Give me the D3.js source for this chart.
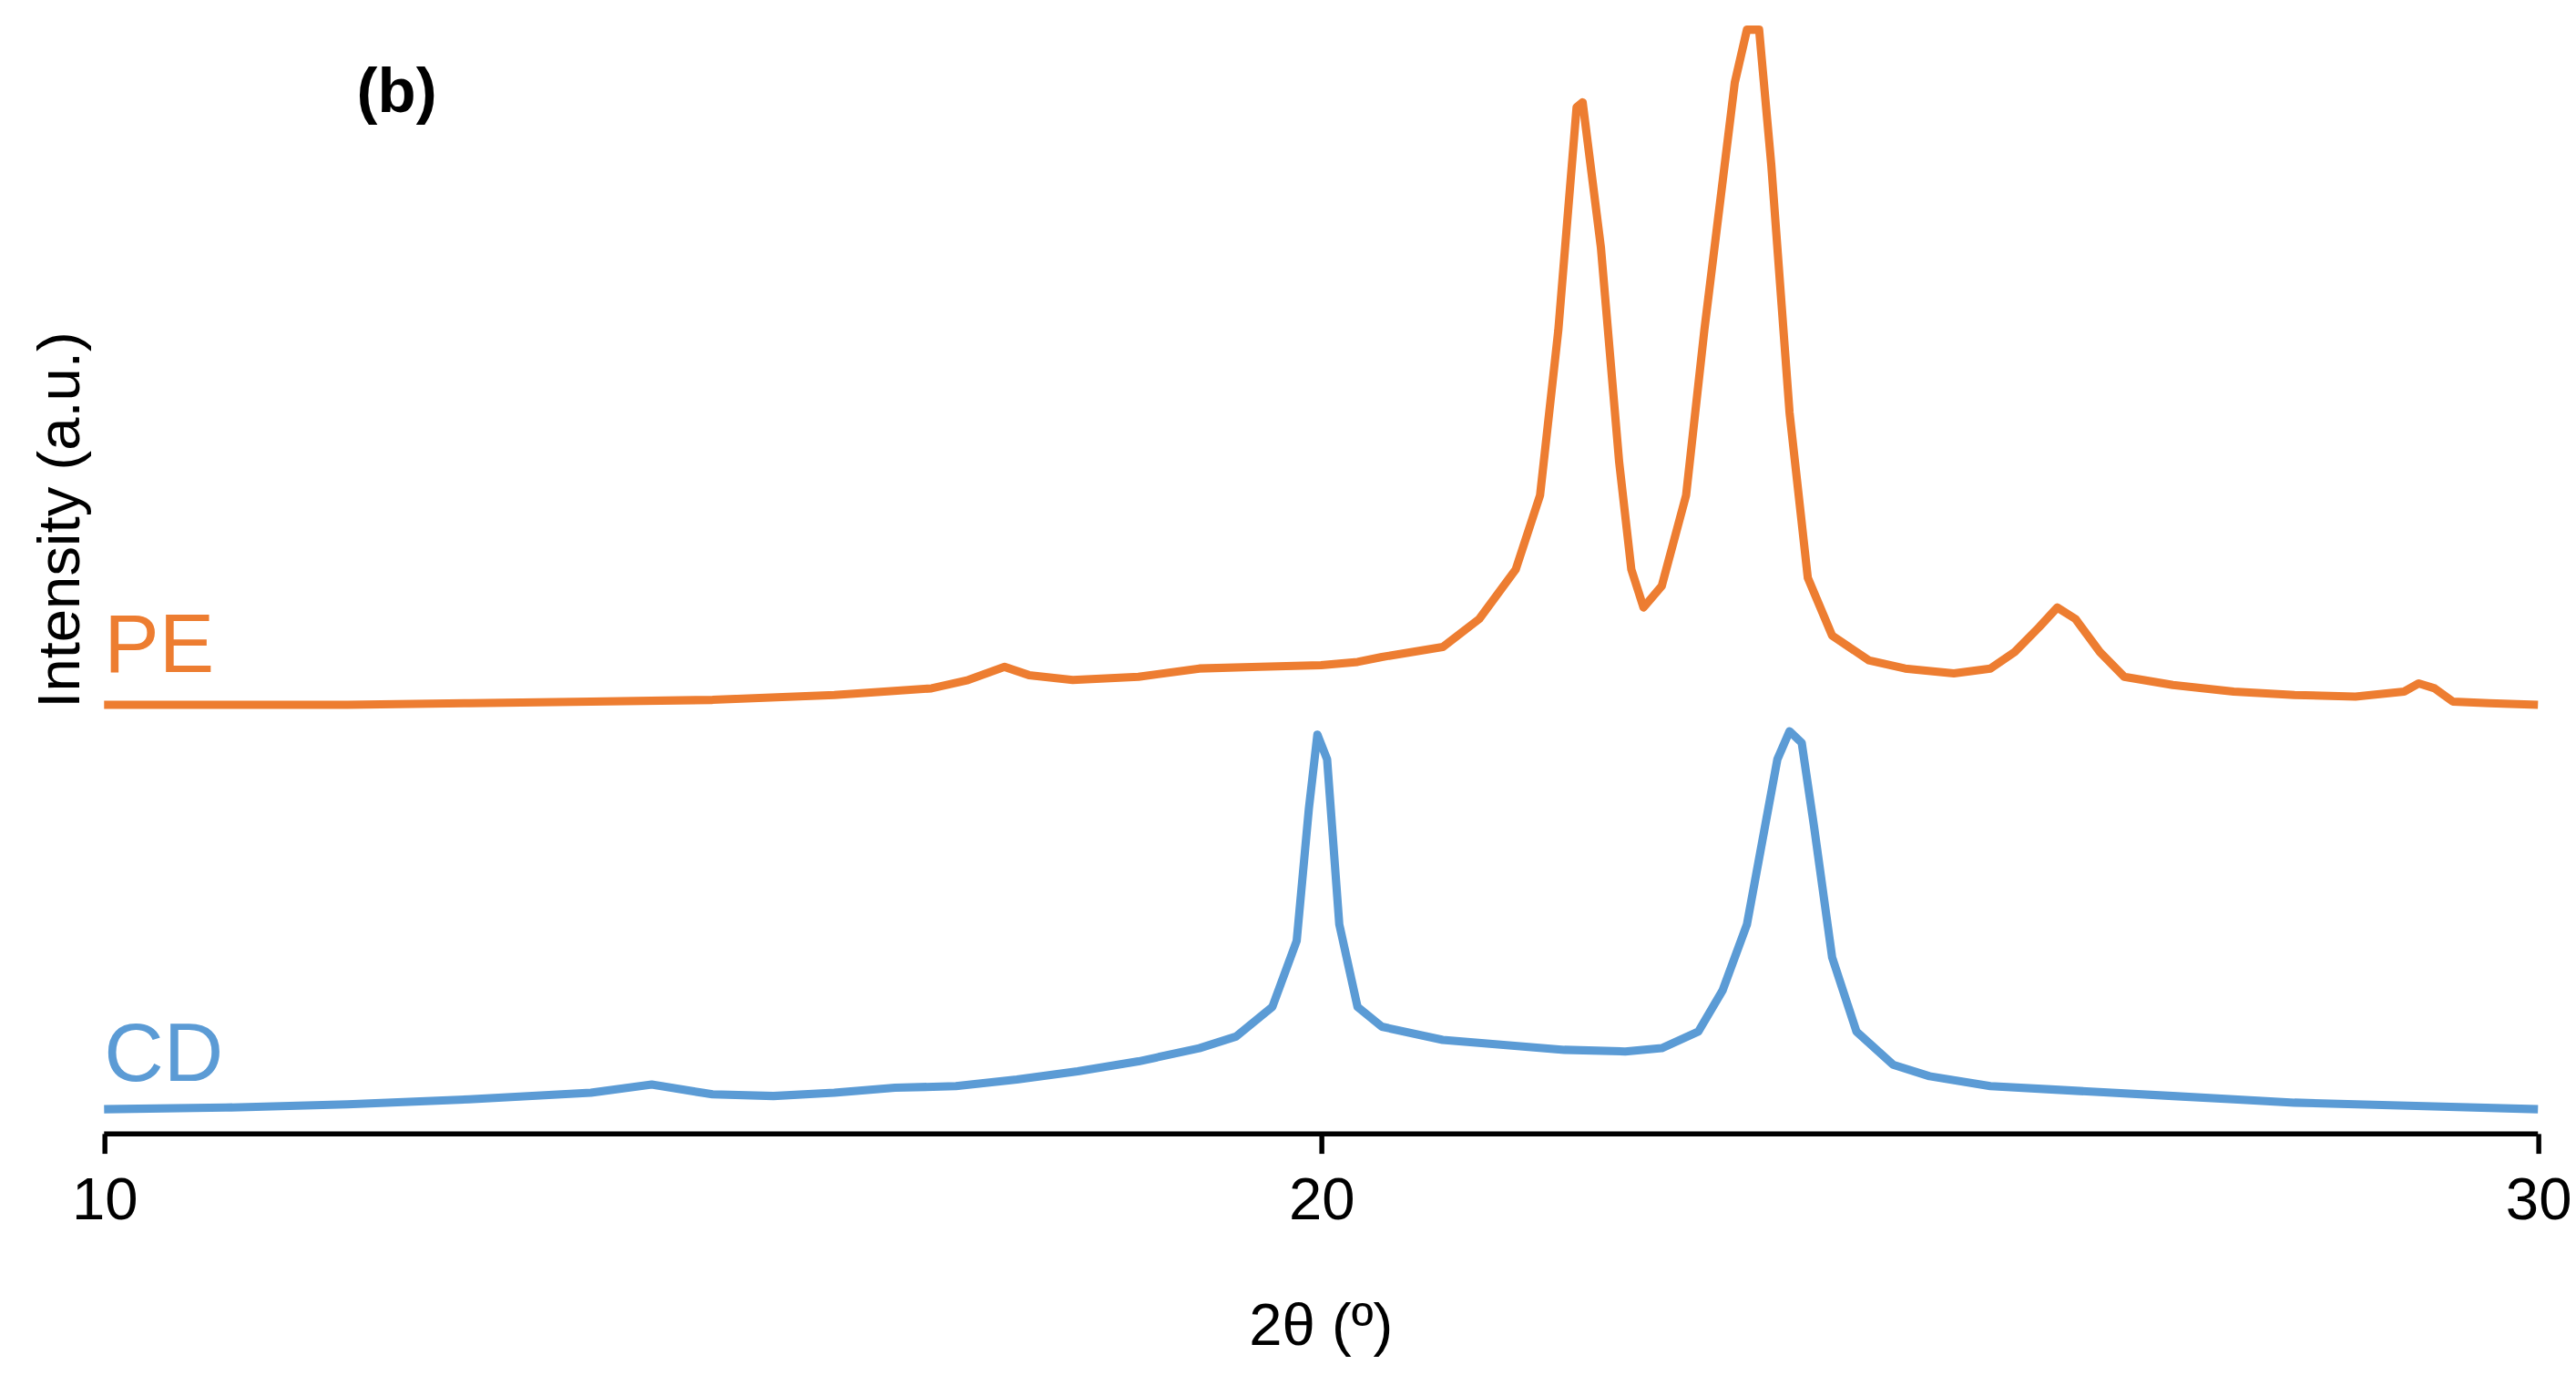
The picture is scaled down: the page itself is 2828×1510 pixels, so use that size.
<!DOCTYPE html>
<html><head><meta charset="utf-8">
<script src="https://cdn.jsdelivr.net/npm/d3@7"></script>
<style>body{margin:0;background:#fff}svg{display:block}</style>
</head><body><svg></svg>
<script>
// Traces: 2θ and intensity (a.u., height above the axis)
var pe_theta = [10,11,12,13,14,15,16,16.8,17.1,17.4,17.6,17.96,18.5,19,19.5,20,20.3,20.5,21,21.3,21.6,21.8,21.95,22.1,22.15,22.3,22.45,22.55,22.65,22.8,23.0,23.15,23.3,23.4,23.5,23.6,23.7,23.85,24.0,24.2,24.5,24.8,25.2,25.5,25.7,25.9,26.05,26.2,26.4,26.6,27,27.5,28,28.5,28.9,29.02,29.15,29.3,29.6,30];
var pe_int   = [260,260,260,261,262,263,266,270,275,283,278,275,277,282,283,284,286,289,295,312,342,387,487,622,625,537,407,342,319,332,387,487,577,637,669,669,587,437,337,302,287,282,279,282,292,307,319,312,292,277,272,268,266,265,268,273,270,262,261,260];
var cd_theta = [10,11,12,13,14,14.5,15,15.5,16,16.5,17,17.5,18,18.5,19,19.3,19.6,19.8,19.9,19.97,20.05,20.15,20.3,20.5,21,21.5,22,22.5,22.8,23.1,23.3,23.5,23.65,23.75,23.85,23.95,24.05,24.2,24.4,24.7,25,25.5,26,26.5,27,27.5,28,29,30];
var cd_int   = [15,16,18,21,25,30,24,23,25,28,29,33,38,44,52,59,77,117,197,242,227,127,77,65,57,54,51,50,52,62,87,127,187,227,244,237,187,107,62,42,35,29,27,25,23,21,19,17,15];
var x_ticks = [10,20,30];
var series = [
  {name:"PE", theta:pe_theta, val:pe_int, color:"#ED7D31", lx:63, ly:390},
  {name:"CD", theta:cd_theta, val:cd_int, color:"#5B9BD5", lx:63, ly:638}
];

var W = 1560, H = 833;
var svg = d3.select("svg").attr("width",2828).attr("height",1510).attr("viewBox","0 0 "+W+" "+H);
var x = d3.scaleLinear().domain([10,30]).range([63,1537]);
var y = d3.scaleLinear().domain([0,687]).range([687,0]);

var ax = svg.append("g").attr("transform","translate(0,687)")
  .call(d3.axisBottom(x).tickValues(x_ticks).tickSize(12).tickPadding(14).tickFormat(d3.format("d")));
ax.select(".domain").attr("stroke","#000").attr("stroke-width",3).attr("d","M63,0H1537");
ax.selectAll(".tick line").attr("stroke","#000").attr("stroke-width",3);
ax.selectAll("text").attr("font-family","Arial, Liberation Sans, sans-serif").attr("font-size",36).attr("fill","#000");

var line = d3.line().x(function(d){return x(d[0]);}).y(function(d){return y(d[1]);});
series.forEach(function(s){
  svg.append("path").datum(d3.zip(s.theta,s.val)).attr("d",line)
    .attr("fill","none").attr("stroke",s.color).attr("stroke-width",5).attr("stroke-linejoin","round");
  svg.append("text").attr("x",s.lx).attr("y",s.ly+17).text(s.name)
    .attr("font-family","Arial, Liberation Sans, sans-serif").attr("font-size",50).attr("fill",s.color);
});

svg.append("text").attr("x",800).attr("y",815).attr("text-anchor","middle").text("2θ (º)")
  .attr("font-family","Arial, Liberation Sans, sans-serif").attr("font-size",36);
svg.append("text").attr("transform","translate(48,315) rotate(-90)").attr("text-anchor","middle")
  .text("Intensity (a.u.)").attr("font-family","Arial, Liberation Sans, sans-serif").attr("font-size",36);
svg.append("text").attr("x",216).attr("y",68).text("(b)")
  .attr("font-family","Arial, Liberation Sans, sans-serif").attr("font-size",38).attr("font-weight","bold");
</script></body></html>
